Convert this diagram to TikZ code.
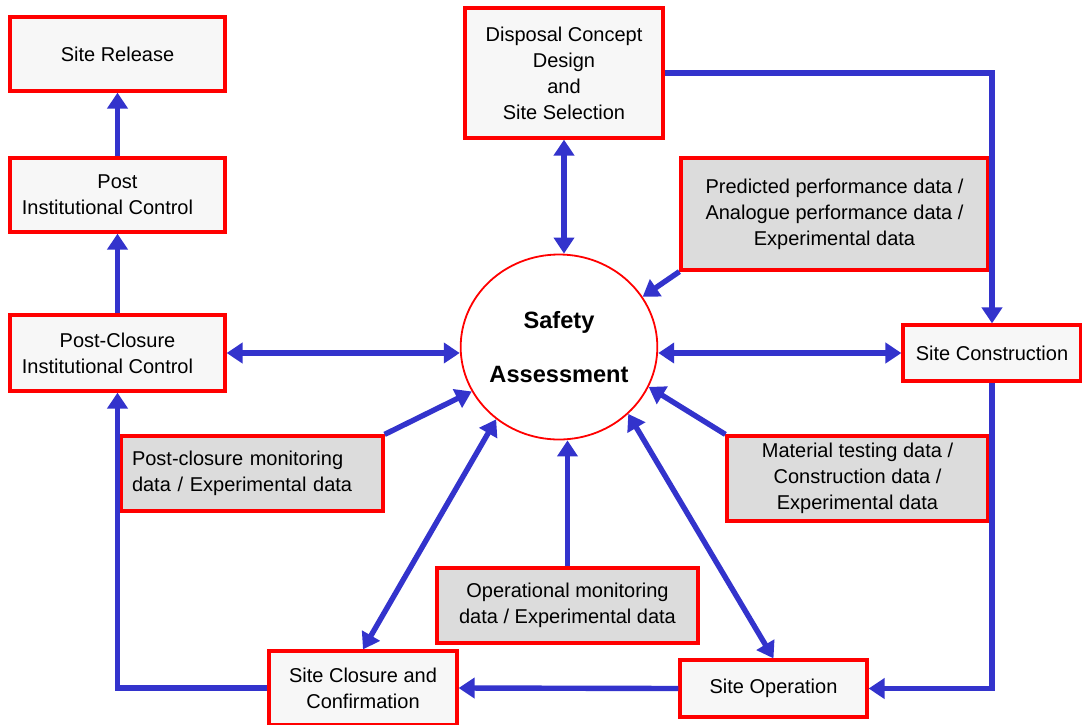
\documentclass[tikz,border=0pt]{standalone}
\usepackage{fontspec}
\setmainfont{Liberation Sans}
\usetikzlibrary{arrows.meta,shapes.geometric}
\definecolor{flowblue}{RGB}{51,51,204}
\definecolor{boxfill}{RGB}{247,247,247}
\definecolor{datafill}{RGB}{220,220,220}
\tikzset{
  stagebox/.style={draw=red, line width=1.6pt, fill=boxfill, align=center,
    font=\fontsize{10}{13}\selectfont, inner sep=2pt},
  databox/.style={stagebox, fill=datafill},
  flow/.style={draw=flowblue, line width=2.7pt, -{Triangle[length=8pt,width=10pt]}},
  dflow/.style={flow, {Triangle[length=8pt,width=10pt]}-{Triangle[length=8pt,width=10pt]}},
}

\begin{document}
\begin{tikzpicture}[x=0.5pt,y=-0.5pt]
  \useasboundingbox (0,0) rectangle (1082,724);

  % stages
  \node[stagebox, minimum width=107.5pt, minimum height=37pt] (sr) at (117.5,54) {Site Release};
  \node[stagebox, minimum width=107.5pt, minimum height=37pt] (pic) at (117.5,195) {Post\\Institutional Control\hspace*{10pt}};
  \node[stagebox, minimum width=107.5pt, minimum height=38pt] (pcic) at (117.5,353) {Post-Closure\\Institutional Control\hspace*{10pt}};
  \node[stagebox, minimum width=99pt, minimum height=65pt] (disp) at (564,73) {Disposal Concept\\Design\\and\\Site Selection};
  \node[stagebox, minimum width=89pt, minimum height=28pt] (sc) at (992,353) {Site Construction};
  \node[stagebox, minimum width=93.5pt, minimum height=28.5pt] (sop) at (773.5,688.5) {Site Operation};
  \node[stagebox, minimum width=94pt, minimum height=37pt] (scl) at (363,688) {Site Closure and\\Confirmation};

  % data
  \node[databox, minimum width=153.5pt, minimum height=56pt] (pred) at (834.5,214) {Predicted performance data /\\Analogue performance data /\\Experimental data};
  \node[databox, minimum width=130.5pt, minimum height=42.5pt] (mat) at (857.5,478.5) {Material testing data /\\Construction data /\\Experimental data};
  \node[databox, inner xsep=5.5pt, text width=120pt, align=left, minimum height=37.5pt] (pcm) at (252,473.5) {Post-closure monitoring\\data / Experimental data};
  \node[databox, minimum width=130.5pt, minimum height=37.5pt] (opm) at (567.5,605.5) {Operational monitoring\\data / Experimental data};

  % assessment
  \node[ellipse, draw=red, line width=0.9pt, fill=white, inner sep=0pt, minimum width=98pt, minimum height=92.5pt,
    align=center, font=\fontsize{11.8}{14}\selectfont\bfseries] (sa) at (559,347) {Safety\\[13pt]Assessment};

  \draw[flow] (pic.north) -- (sr.south);
  \draw[flow] (pcic.north) -- (pic.south);
  \draw[dflow] (pcic.east) -- (pcic.east -| sa.west);
  \draw[dflow] (sc.west -| sa.east) -- (sc.west);
  \draw[dflow] (disp.south) -- (disp.south |- sa.north);
  \draw[flow] (disp.east) -| (sc.north);
  \draw[flow] (sc.south) |- (sop.east);
  \draw[flow] (sop.west) -- (scl.east);
  \draw[flow] (scl.west) -| (pcic.south);

  \draw[flow] (pred.south west) -- (sa.31);
  \draw[flow] (mat.north west) -- (sa.-24);
  \draw[flow] (pcm.north east) -- (sa.207);
  \draw[flow] (opm.north) -- (opm.north |- sa.south);
  \draw[dflow] (sa.-131) -- (scl.north);
  \draw[dflow] (sa.-44) -- (sop.north);
\end{tikzpicture}
\end{document}
